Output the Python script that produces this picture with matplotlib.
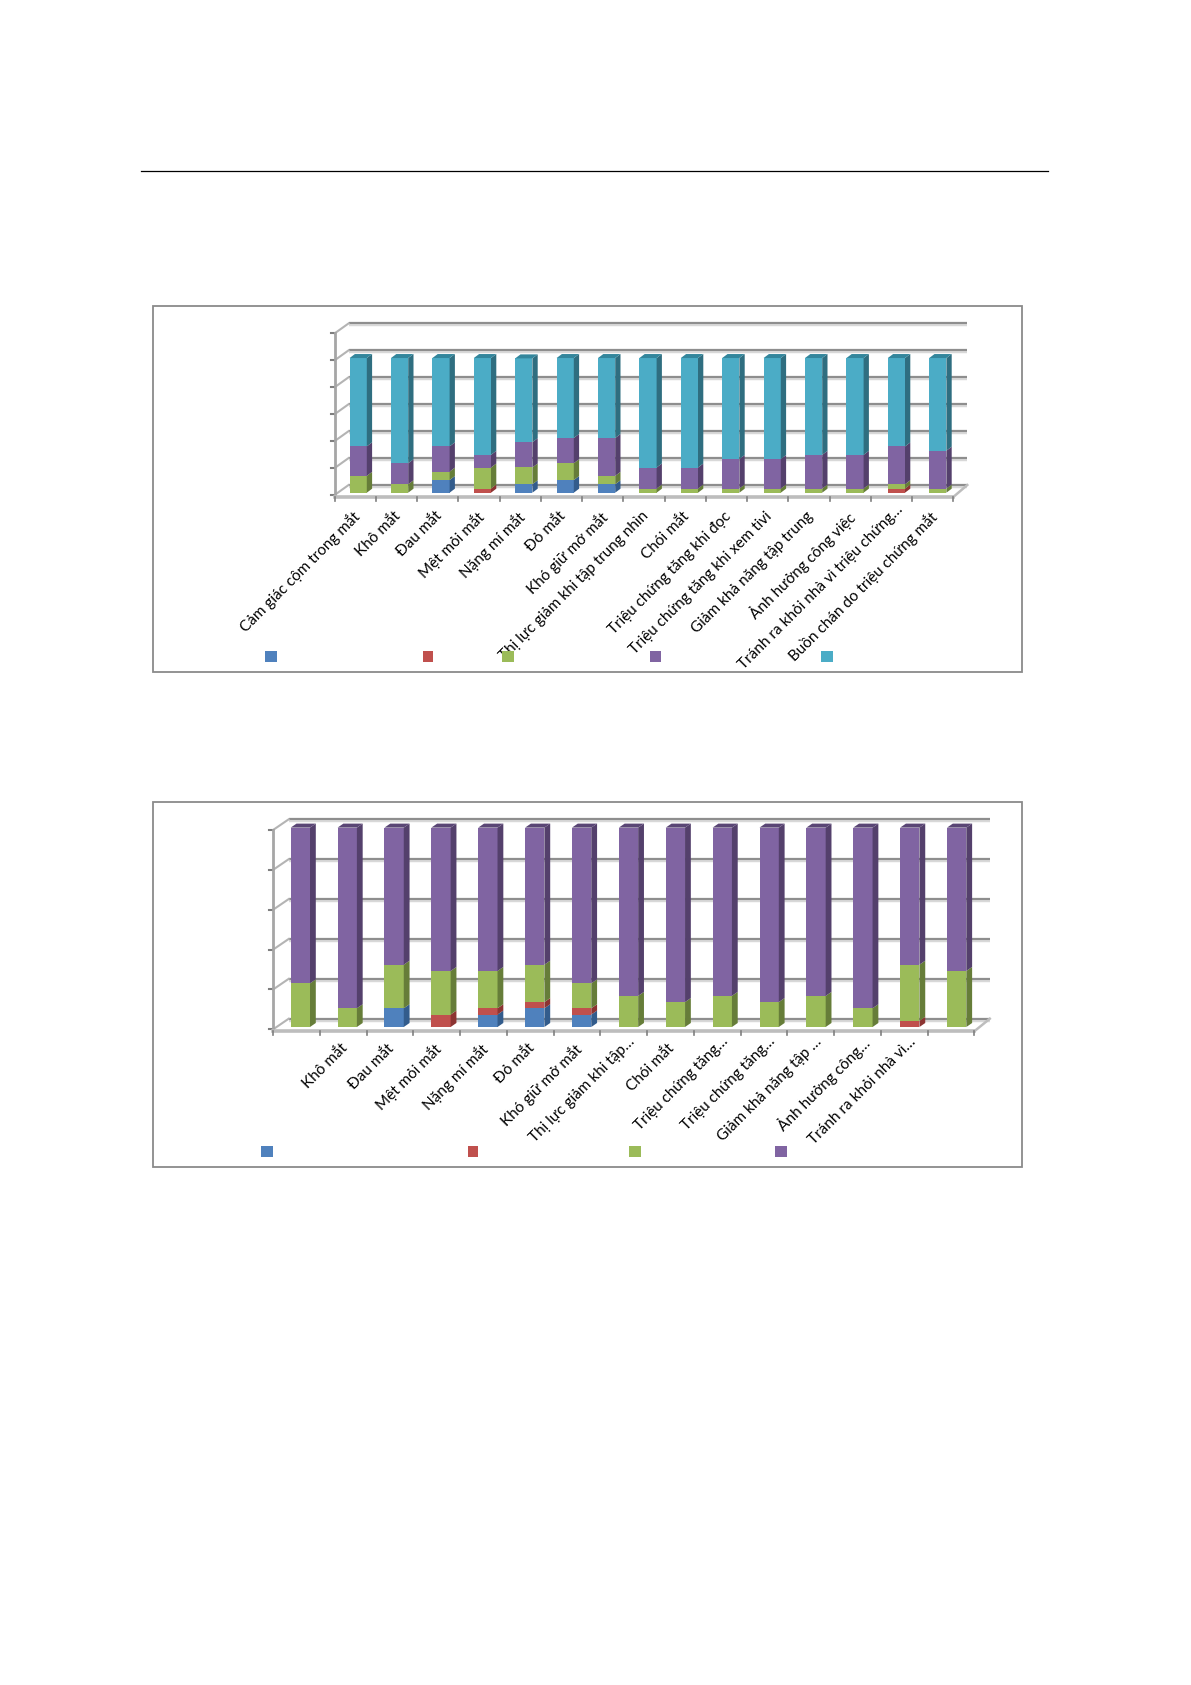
import matplotlib
matplotlib.use("Agg")
import matplotlib.pyplot as plt
from matplotlib.patches import Polygon, Rectangle
from matplotlib.lines import Line2D

W, H = 1191, 1685

plt.rcParams['font.family'] = ['Lato', 'Open Sans', 'DejaVu Sans']

# top chart, percent per category
labels_1 = ["Cảm giác cộm trong mắt", "Khô mắt", "Đau mắt", "Mệt mỏi mắt", "Nặng mí mắt", "Đỏ mắt",
            "Khó giữ mở mắt", "Thị lực giảm khi tập trung nhìn", "Chói mắt", "Triệu chứng tăng khi đọc",
            "Triệu chứng tăng khi xem tivi", "Giảm khả năng tập trung", "Ảnh hưởng công việc",
            "Tránh ra khỏi nhà vì triệu chứng…", "Buồn chán do triệu chứng mắt"]
blue_1 = [0, 0, 9.4, 0, 6.25, 9.4, 6.25, 0, 0, 0, 0, 0, 0, 0, 0]
red_1 = [0, 0, 0, 3.1, 0, 0, 0, 0, 0, 0, 0, 0, 0, 3.1, 0]
green_1 = [12.5, 6.25, 6.25, 15.6, 12.5, 12.5, 6.25, 3.1, 3.1, 3.1, 3.1, 3.1, 3.1, 3.15, 3.1]
purple_1 = [21.9, 15.6, 18.75, 9.4, 18.75, 18.75, 28.1, 15.6, 15.6, 21.9, 21.9, 25, 25, 28.1, 28.1]
teal_1 = [65.6, 78.15, 65.6, 71.9, 62.25, 59.35, 59.4, 81.3, 81.3, 75, 75, 71.9, 71.9, 65.65, 68.8]

# bottom chart
labels_2 = ["", "Khô mắt", "Đau mắt", "Mệt mỏi mắt", "Nặng mí mắt", "Đỏ mắt", "Khó giữ mở mắt",
            "Thị lực giảm khi tập…", "Chói mắt", "Triệu chứng tăng…", "Triệu chứng tăng…",
            "Giảm khả năng tập …", "Ảnh hưởng công…", "Tránh ra khỏi nhà vì…", ""]
blue_2 = [0, 0, 9.4, 0, 6.25, 9.4, 6.25, 0, 0, 0, 0, 0, 0, 0, 0]
red_2 = [0, 0, 0, 6.25, 3.15, 3.1, 3.15, 0, 0, 0, 0, 0, 0, 3.1, 0]
green_2 = [21.9, 9.4, 21.85, 21.85, 18.7, 18.75, 12.5, 15.6, 12.5, 15.6, 12.5, 15.6, 9.4, 28.15, 28.1]
purple_2 = [78.1, 90.6, 68.75, 71.9, 71.9, 68.75, 78.1, 84.4, 87.5, 84.4, 87.5, 84.4, 90.6, 68.75, 71.9]

FACE = ["#4F81BD", "#C0504D", "#9BBB59", "#8064A2", "#4BACC6"]
SIDE = ["#335C8C", "#8C3432", "#667D39", "#54406C", "#2F6E80"]
TOP = ["#3F6FA8", "#A84542", "#7F9C47", "#5A4675", "#33869C"]
GRID = "#8E8E8E"
SHADOW = "#D8D8D8"


def px_box(x0, y0, x1, y1):
    # pixel box (y from the top) to figure fractions
    return [x0 / W, 1 - y1 / H, (x1 - x0) / W, (y1 - y0) / H]


def draw_chart(box, ymax, series, labels, bar_x0, bar_step, bar_w, side, lift, depth, swatches, swatch_y,
               label_dy, label_dx):
    x0, y0, x1, y1 = box  # front plane of the plot
    ax = fig.add_axes(px_box(x0, y0, x1, y1))
    n = len(labels)
    ax.set_xlim(0, n)
    ax.set_ylim(0, ymax)
    ax.axis("off")
    sx = n / (x1 - x0)  # data per pixel
    sy = ymax / (y1 - y0)
    ddx, ddy = depth[0] * sx, depth[1] * sy

    # back wall and left wall gridlines
    for v in range(0, ymax + 1, 20):
        for c, lw, off in [(SHADOW, 3.2, -1.0), (GRID, 1.5, 0)]:
            ax.plot([ddx, n + ddx], [v + ddy + off * sy, v + ddy + off * sy], color=c, lw=lw,
                    clip_on=False, solid_capstyle="butt", zorder=1)
        ax.plot([0, ddx], [v, v + ddy], color="#B4B4B4", lw=1.5, clip_on=False, zorder=1)
        ax.plot([-4 * sx, 0], [v, v], color="#7F7F7F", lw=1.5, clip_on=False, zorder=2)

    # axes on the front plane
    ax.plot([0, 0], [0, ymax], color="#A6A6A6", lw=2, clip_on=False, zorder=2)
    ax.plot([0, n], [-2 * sy, -2 * sy], color="#BDBDBD", lw=2.6, clip_on=False, zorder=2)
    ax.plot([n, n + ddx], [-2 * sy, ddy], color="#BDBDBD", lw=1.8, clip_on=False, zorder=2)
    for i in range(n + 1):
        ax.plot([i, i], [-2 * sy, -5.5 * sy], color="#7F7F7F", lw=1.2, clip_on=False, zorder=2)

    # stacked bars
    w = bar_w * sx
    dx, dy = side * sx, lift * sy
    for i in range(n):
        left = (bar_x0 + i * bar_step - x0) * sx
        base = 2.3 * sy
        for k, vals in enumerate(series):
            v = vals[i]
            if v <= 0:
                continue
            ax.bar(left, v, w, bottom=base, align="edge", color=FACE[k], clip_on=False, zorder=3)
            ax.add_patch(Polygon([(left + w, base), (left + w + dx, base + dy), (left + w + dx, base + v + dy),
                                  (left + w, base + v)], closed=True, fc=SIDE[k], ec="none", clip_on=False, zorder=3))
            base += v
            last = k
        ax.add_patch(Polygon([(left, base), (left + dx, base + dy), (left + w + dx, base + dy), (left + w, base)],
                             closed=True, fc=TOP[last], ec="none", clip_on=False, zorder=3))

    # rotated category labels, cut ones sit a little further along the slant
    for i, t in enumerate(labels):
        if t:
            extra = 7 if t.endswith("…") else 0
            ax.annotate(t, xy=(i + 0.5, 0), xytext=(label_dx + extra, -label_dy + extra), textcoords="offset pixels",
                        rotation=45, ha="right", va="top", rotation_mode="anchor", fontsize=11,
                        color="black", annotation_clip=False, zorder=5)

    # legend swatches, the names are not shown in the source
    for k, (a, b) in enumerate(swatches):
        fig.add_artist(Rectangle((a / W, 1 - (swatch_y + 11) / H), (b - a) / W, 11 / H,
                                 transform=fig.transFigure, fc=FACE[k], ec="none"))


fig = plt.figure(figsize=(W / 100, H / 100), dpi=100, facecolor="white")

# page rule
fig.add_artist(Line2D([141 / W, 1048 / W], [1 - 171.5 / H] * 2, color="black", lw=0.9))

# chart frames
for top, bottom in [(306, 672), (802, 1167)]:
    fig.add_artist(Rectangle((152.5 / W, 1 - bottom / H), (1022 - 152.5) / W, (bottom - top) / H,
                             transform=fig.transFigure, fc="white", ec="#8A8A8A", lw=1.3, zorder=-1))

draw_chart((334.6, 333.4, 953.3, 495), 120, [blue_1, red_1, green_1, purple_1, teal_1], labels_1,
           349.6, 41.4, 17.2, 5.3, 4, (14, 10), [(265, 277), (423, 433), (502, 514), (650, 661), (821, 833)], 651.5,
           14, -3)

draw_chart((273.2, 829.9, 974.3, 1029.3), 100, [blue_2, red_2, green_2, purple_2], labels_2,
           290.7, 46.88, 19.3, 5.8, 4, (15.5, 10.6), [(261, 273), (468, 478), (629, 641), (775, 787)], 1145.5,
           12, -3)

fig.savefig("out.png", dpi=100)
